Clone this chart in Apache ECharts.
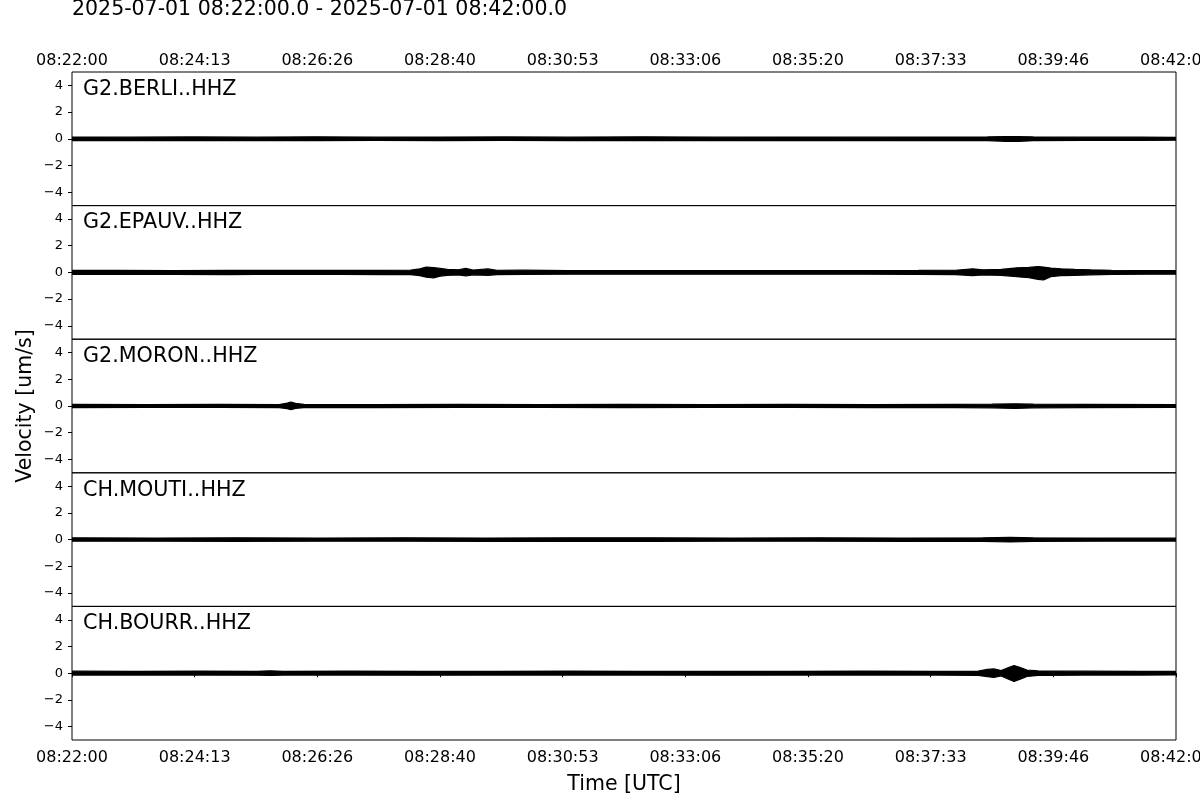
<!DOCTYPE html>
<html>
<head>
<meta charset="utf-8">
<script src="https://cdn.jsdelivr.net/npm/echarts@6/dist/echarts.min.js"></script>
<style>html,body{margin:0;padding:0;background:#fff;}#c{width:1200px;height:800px;}</style>
</head>
<body>
<div id="c"></div>
<script>
// ---- data (seconds after 08:22:00 UTC, envelope: [t, upper, lower magnitude] in um/s) ----
const stations = ['G2.BERLI..HHZ', 'G2.EPAUV..HHZ', 'G2.MORON..HHZ', 'CH.MOUTI..HHZ', 'CH.BOURR..HHZ'];
const timeTickLabels = ['08:22:00','08:24:13','08:26:26','08:28:40','08:30:53','08:33:06','08:35:20','08:37:33','08:39:46','08:42:00'];
const yTickValues = [-4, -2, 0, 2, 4];
const titleText = '2025-07-01 08:22:00.0 - 2025-07-01 08:42:00.0';

const berliEnv = [[0,0.13,0.13],[60,0.12,0.12],[130,0.14,0.13],[200,0.12,0.13],[265,0.15,0.13],[330,0.12,0.12],[400,0.13,0.13],[470,0.14,0.12],[540,0.12,0.13],[620,0.15,0.14],[700,0.12,0.12],[780,0.13,0.13],[860,0.12,0.13],[940,0.13,0.12],[995,0.14,0.14],[1015,0.17,0.19],[1028,0.16,0.2],[1045,0.14,0.14],[1100,0.12,0.12],[1160,0.12,0.12],[1200,0.11,0.11]];
const epauvEnv = [[0,0.15,0.15],[50,0.16,0.15],[110,0.14,0.15],[170,0.16,0.16],[230,0.15,0.14],[290,0.16,0.15],[340,0.15,0.16],[368,0.17,0.17],[378,0.27,0.24],[385,0.4,0.36],[393,0.36,0.42],[400,0.3,0.29],[408,0.22,0.22],[420,0.2,0.19],[428,0.3,0.27],[436,0.18,0.18],[452,0.26,0.22],[462,0.16,0.17],[490,0.17,0.15],[540,0.14,0.14],[600,0.14,0.14],[660,0.13,0.13],[720,0.14,0.14],[790,0.13,0.13],[860,0.14,0.14],[920,0.15,0.15],[960,0.16,0.17],[979,0.27,0.24],[990,0.19,0.19],[1010,0.22,0.22],[1027,0.34,0.32],[1040,0.37,0.4],[1050,0.44,0.52],[1056,0.4,0.57],[1064,0.32,0.32],[1075,0.27,0.24],[1090,0.22,0.22],[1107,0.19,0.18],[1130,0.16,0.15],[1170,0.14,0.14],[1200,0.13,0.13]];
const moronEnv = [[0,0.12,0.12],[80,0.11,0.11],[160,0.12,0.11],[225,0.11,0.12],[234,0.22,0.2],[238,0.29,0.28],[243,0.2,0.18],[252,0.12,0.12],[330,0.11,0.12],[420,0.12,0.11],[510,0.11,0.11],[600,0.12,0.12],[690,0.11,0.11],[780,0.12,0.11],[870,0.11,0.12],[960,0.12,0.12],[1000,0.14,0.14],[1025,0.17,0.18],[1045,0.14,0.14],[1100,0.12,0.12],[1200,0.11,0.11]];
const moutiEnv = [[0,0.13,0.12],[90,0.12,0.12],[180,0.13,0.13],[270,0.12,0.12],[360,0.13,0.12],[450,0.12,0.13],[540,0.13,0.12],[630,0.14,0.13],[720,0.12,0.12],[810,0.13,0.12],[900,0.12,0.13],[990,0.14,0.14],[1020,0.16,0.18],[1045,0.14,0.14],[1110,0.12,0.12],[1200,0.11,0.11]];
const bourrEnv = [[0,0.15,0.14],[70,0.14,0.14],[140,0.15,0.14],[200,0.14,0.15],[215,0.18,0.17],[230,0.14,0.14],[300,0.15,0.14],[380,0.14,0.15],[460,0.14,0.14],[540,0.15,0.14],[620,0.14,0.14],[700,0.14,0.15],[780,0.14,0.14],[860,0.15,0.14],[940,0.14,0.14],[985,0.16,0.16],[995,0.28,0.26],[1002,0.32,0.32],[1010,0.2,0.2],[1018,0.42,0.44],[1024,0.57,0.62],[1030,0.44,0.47],[1038,0.24,0.24],[1050,0.17,0.17],[1100,0.15,0.14],[1160,0.14,0.14],[1200,0.13,0.13]];
const envelopes = [berliEnv, epauvEnv, moronEnv, moutiEnv, bourrEnv];

const T_MAX = 1200;
const FONT = 'DejaVu Sans';
const plotLeft = 72, plotRight = 1176, plotTop = 72, plotBottom = 740;
const panelH = (plotBottom - plotTop) / stations.length;
const tickStep = T_MAX / (timeTickLabels.length - 1);

const grids = [], xAxes = [], yAxes = [], series = [], graphics = [];
stations.forEach((name, i) => {
  const top = plotTop + i * panelH;
  grids.push({ left: plotLeft, width: plotRight - plotLeft, top: top, height: panelH,
    outerBoundsMode: 'none', containLabel: false,
    show: true, borderColor: '#000', borderWidth: 1, backgroundColor: 'transparent' });
  const isTop = i === 0, isBottom = i === stations.length - 1;
  xAxes.push({
    type: 'value', gridIndex: i, min: 0, max: T_MAX, interval: tickStep,
    position: isTop ? 'top' : 'bottom',
    axisLine: { show: false },
    splitLine: { show: false },
    axisTick: { show: isBottom, length: 4, lineStyle: { color: '#000', width: 1 } },
    axisLabel: { show: isTop || isBottom, color: '#000', fontFamily: FONT, fontSize: 16, margin: isTop ? 3 : 10,
      showMinLabel: true, showMaxLabel: true, hideOverlap: false,
      formatter: v => timeTickLabels[Math.round(v / tickStep)] }
  });
  yAxes.push({
    type: 'value', gridIndex: i, min: -5, max: 5,
    axisLine: { show: false },
    splitLine: { show: false },
    axisTick: { show: true, length: 4, customValues: yTickValues, lineStyle: { color: '#000', width: 1 } },
    axisLabel: { show: true, customValues: yTickValues, color: '#000', fontFamily: FONT, fontSize: 13, margin: 9,
      formatter: v => (v < 0 ? '\u2212' + (-v) : String(v)) }
  });
  const env = envelopes[i];
  const common = { type: 'line', xAxisIndex: i, yAxisIndex: i, showSymbol: false, silent: true,
    animation: false, z: 2, lineStyle: { color: '#000', width: 1.2 } };
  // upper half of the envelope (fill reaches slightly below zero so both halves overlap)
  series.push(Object.assign({}, common, { data: env.map(p => [p[0], p[1]]),
    areaStyle: { color: '#000', opacity: 1, origin: -0.08 } }));
  // lower half of the envelope
  series.push(Object.assign({}, common, { data: env.map(p => [p[0], -p[2]]),
    areaStyle: { color: '#000', opacity: 1, origin: 0.08 } }));
  graphics.push({ type: 'text', left: 83, top: top + 7, z: 100,
    style: { text: name, font: '20.7px "DejaVu Sans"', fill: '#000' } });
});

graphics.push({ type: 'text', left: 72, top: -1, z: 100,
  style: { text: titleText, font: '20.5px "DejaVu Sans"', fill: '#000' } });
graphics.push({ type: 'text', x: (plotLeft + plotRight) / 2, y: 785, z: 100,
  style: { text: 'Time [UTC]', font: '20.5px "DejaVu Sans"', fill: '#000', align: 'center', verticalAlign: 'middle' } });
graphics.push({ type: 'text', x: 26, y: (plotTop + plotBottom) / 2, rotation: Math.PI / 2, z: 100,
  style: { text: 'Velocity [um/s]', font: '20.5px "DejaVu Sans"', fill: '#000', align: 'center', verticalAlign: 'middle' } });

const chart = echarts.init(document.getElementById('c'), null, { renderer: 'canvas' });
chart.setOption({
  backgroundColor: '#fff',
  animation: false,
  grid: grids, xAxis: xAxes, yAxis: yAxes, series: series, graphic: graphics
});
</script>
</body>
</html>
